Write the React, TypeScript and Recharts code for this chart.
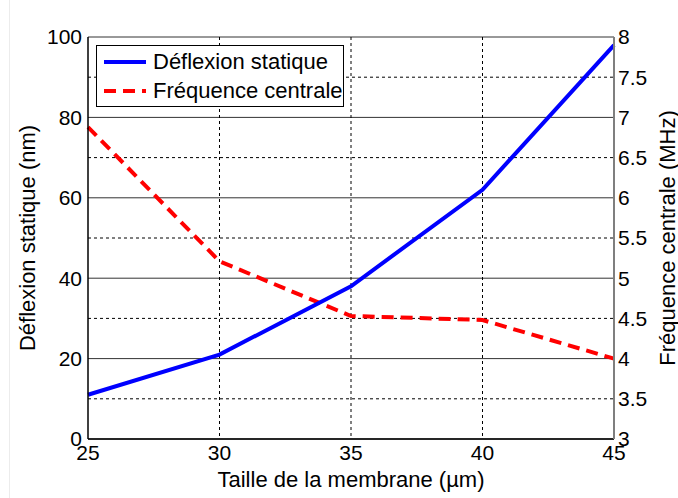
import React from 'react';
import { LineChart, Line, XAxis, YAxis, CartesianGrid, Legend, Label } from 'recharts';

const sizes = [25, 30, 35, 40, 45];
const deflection = [11, 21, 38, 62, 98];
const frequency = [6.88, 5.21, 4.53, 4.48, 4.0];
const xTicks = [25, 30, 35, 40, 45];
const leftTicks = [0, 20, 40, 60, 80, 100];
const rightTicks = [3, 3.5, 4, 4.5, 5, 5.5, 6, 6.5, 7, 7.5, 8];
const rightMinorGrid = [3.5, 4.5, 5.5, 6.5, 7.5];
const verticalGrid = [30, 35, 40];
const seriesNames = ['Déflexion statique', 'Fréquence centrale'];

const data = sizes.map((s, i) => ({ size: s, defl: deflection[i], freq: frequency[i] }));

const FONT = '"Liberation Sans", Arial, sans-serif';
const tickStyle = { fill: '#000', fontSize: 21, fontFamily: FONT };

const LegendBox = () => (
  <div
    style={{
      width: 246,
      height: 60,
      border: '1px solid #000',
      background: '#fff',
      position: 'relative',
      fontFamily: FONT,
      fontSize: 22,
      color: '#000',
    }}
  >
    {[0, 1].map((i) => (
      <div key={i} style={{ position: 'absolute', left: 0, top: i === 0 ? 2 : 31, height: 28, display: 'flex', alignItems: 'center' }}>
        <svg width={56} height={28} style={{ display: 'block' }}>
          <line
            x1={7}
            x2={49}
            y1={14}
            y2={14}
            stroke={i === 0 ? '#0000ff' : '#ff0000'}
            strokeWidth={4}
            strokeDasharray={i === 0 ? undefined : '12 7'}
          />
        </svg>
        <span style={{ whiteSpace: 'nowrap', lineHeight: '28px' }}>{seriesNames[i]}</span>
      </div>
    ))}
  </div>
);

const vLabel = (text: string, cx: number) => (props: any) => {
  const vb = props.viewBox || {};
  const cy = (vb.y ?? 37) + (vb.height ?? 402) / 2;
  return (
    <text
      x={cx}
      y={cy}
      transform={`rotate(-90, ${cx}, ${cy})`}
      textAnchor="middle"
      dominantBaseline="central"
      fill="#000"
      fontSize={22}
      fontFamily={FONT}
    >
      {text}
    </text>
  );
};

const xLabel = (props: any) => {
  const vb = props.viewBox || {};
  const cx = (vb.x ?? 88) + (vb.width ?? 526) / 2;
  return (
    <text x={cx} y={479} textAnchor="middle" dominantBaseline="central" fill="#000" fontSize={22} fontFamily={FONT}>
      Taille de la membrane (µm)
    </text>
  );
};

export default function App() {
  return (
    <div style={{ width: 678, height: 498, background: '#fff', overflow: 'hidden', position: 'relative' }}>
      <style>{'html,body{margin:0;padding:0;overflow:hidden;background:#fff}'}</style>
      <div style={{ position: 'absolute', left: 9, top: 0, width: 1, height: 498, background: '#ececec' }} />
      <LineChart width={678} height={498} data={data} margin={{ top: 37, right: 0, bottom: 0, left: 0 }}>
        <CartesianGrid
          yAxisId="left"
          horizontalValues={leftTicks}
          vertical={false}
          stroke="#333"
          strokeWidth={1}
        />
        <CartesianGrid
          yAxisId="right"
          horizontalValues={rightMinorGrid}
          verticalValues={verticalGrid}
          stroke="#000"
          strokeDasharray="3 3"
          strokeWidth={1}
        />
        <XAxis
          dataKey="size"
          type="number"
          domain={[25, 45]}
          ticks={xTicks}
          height={59}
          tickLine={false}
          tickSize={0}
          tickMargin={6}
          axisLine={{ stroke: '#000', strokeWidth: 1.5 }}
          tick={tickStyle}
          interval={0}
        >
          <Label content={xLabel} />
        </XAxis>
        <YAxis
          yAxisId="left"
          orientation="left"
          domain={[0, 100]}
          ticks={leftTicks}
          width={88}
          tickLine={false}
          tickSize={0}
          tickMargin={6}
          axisLine={{ stroke: '#000', strokeWidth: 1.5 }}
          tick={tickStyle}
          interval={0}
        >
          <Label content={vLabel('Déflexion statique (nm)', 27)} />
        </YAxis>
        <YAxis
          yAxisId="right"
          orientation="right"
          domain={[3, 8]}
          ticks={rightTicks}
          width={64}
          tickLine={false}
          tickSize={0}
          tickMargin={4}
          axisLine={{ stroke: '#7f7f7f', strokeWidth: 2 }}
          tick={tickStyle}
          interval={0}
        >
          <Label content={vLabel('Fréquence centrale (MHz)', 667)} />
        </YAxis>
        <Line
          yAxisId="right"
          type="linear"
          dataKey="freq"
          name={seriesNames[1]}
          stroke="#ff0000"
          strokeWidth={4}
          strokeDasharray="12 7"
          dot={false}
          isAnimationActive={false}
        />
        <Line
          yAxisId="left"
          type="linear"
          dataKey="defl"
          name={seriesNames[0]}
          stroke="#0000ff"
          strokeWidth={4}
          dot={false}
          isAnimationActive={false}
        />
        <Legend
          layout="vertical"
          align="center"
          verticalAlign="middle"
          content={() => <LegendBox />}
          wrapperStyle={{ left: 96, top: 45, width: 248, height: 62 }}
        />
      </LineChart>
    </div>
  );
}
